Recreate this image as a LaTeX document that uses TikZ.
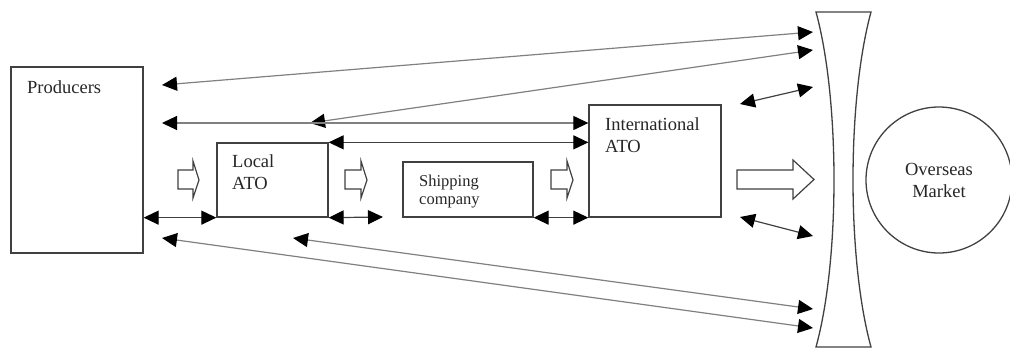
\documentclass[tikz,border=0pt]{standalone}
\usepackage{fontspec}
\setmainfont{Liberation Serif}
\usetikzlibrary{arrows.meta}
\begin{document}
\begin{tikzpicture}[x=1pt,y=-1pt,
  box/.style={draw=black!75, line width=1.3pt, inner sep=0pt},
  lbl/.style={inner sep=0pt, font=\fontsize{18.5}{22}\selectfont, text=black!85},
  slbl/.style={inner sep=0pt, font=\fontsize{16.5}{18}\selectfont, text=black!85},
  dar/.style={draw=black!75, line width=1.2pt,
    {Triangle[length=15pt,width=14pt,color=black]}-{Triangle[length=15pt,width=14pt,color=black]}},
  lar/.style={dar, draw=black!50},
  blk/.style={draw=black!75, line width=1.2pt, fill=white, line join=miter}]
\useasboundingbox (0,0) rectangle (1010,349);

% boxes
\node[box, minimum width=132pt, minimum height=186pt] (prod) at (77,160) {};
\node[box, minimum width=111pt, minimum height=74pt] (loc) at (272.5,180) {};
\node[box, minimum width=130pt, minimum height=55pt] (ship) at (468,189.5) {};
\node[box, minimum width=132pt, minimum height=112pt] (intl) at (655,161) {};
\node[box, circle, minimum size=146pt, align=center, lbl] (mkt) at (939,180) {Overseas\\Market};

% labels
\node[lbl, anchor=base west] (tprod) at (27,93) {Producers};
\node[lbl, anchor=base west] (tloc1) at (232,167) {Local};
\node[lbl, anchor=base west] (tloc2) at (232,189) {ATO};
\node[slbl, anchor=base west] (tship1) at (419,186) {Shipping};
\node[slbl, anchor=base west] (tship2) at (419,204) {company};
\node[lbl, anchor=base west] (tint1) at (605,130) {International};
\node[lbl, anchor=base west] (tint2) at (605,152) {ATO};

% lens (border)
\draw[box] (816,12) -- (871,12) .. controls (847,100) and (847,260) .. (871,347)
  -- (816,347) .. controls (840,260) and (840,100) .. (816,12) -- cycle;

% free ends
\coordinate (a1) at (162,85);   \coordinate (a2) at (813,32);
\coordinate (b1) at (310,123);  \coordinate (b2) at (813,50);
\coordinate (c1) at (162,123);
\coordinate (e1) at (740,104);  \coordinate (e2) at (813,87);
\coordinate (g2) at (383,217);
\coordinate (i1) at (740,217);  \coordinate (i2) at (813,236);
\coordinate (j1) at (293,238);  \coordinate (j2) at (813,309);
\coordinate (k1) at (162,238);  \coordinate (k2) at (813,328);

% connectors
\draw[lar] (a1) -- (a2);
\draw[lar] (b1) -- (b2);
\draw[lar] (c1) -- (c1 -| intl.west);
\draw[dar] (loc.north east) -- (loc.north east -| intl.west);
\draw[dar] (e1) -- (e2);
\draw[dar] (prod.east |- loc.south) -- (loc.south west);
\draw[dar] (loc.south east) -- (g2);
\draw[dar] (ship.south east) -- (ship.south east -| intl.west);
\draw[dar] (i1) -- (i2);
\draw[lar] (j1) -- (j2);
\draw[lar] (k1) -- (k2);

% block arrows
\draw[blk] (178,170) -- (193,170) -- (193,161) -- (199,180) -- (193,198) -- (193,189) -- (178,189) -- cycle;
\draw[blk] (345,170) -- (361,170) -- (361,161) -- (367,180) -- (361,198) -- (361,189) -- (345,189) -- cycle;
\draw[blk] (551,170) -- (567,170) -- (567,161) -- (573,180) -- (567,198) -- (567,189) -- (551,189) -- cycle;
\draw[blk] (737,170) -- (793,170) -- (793,160) -- (814,179.5) -- (793,199) -- (793,189) -- (737,189) -- cycle;
\end{tikzpicture}
\end{document}
